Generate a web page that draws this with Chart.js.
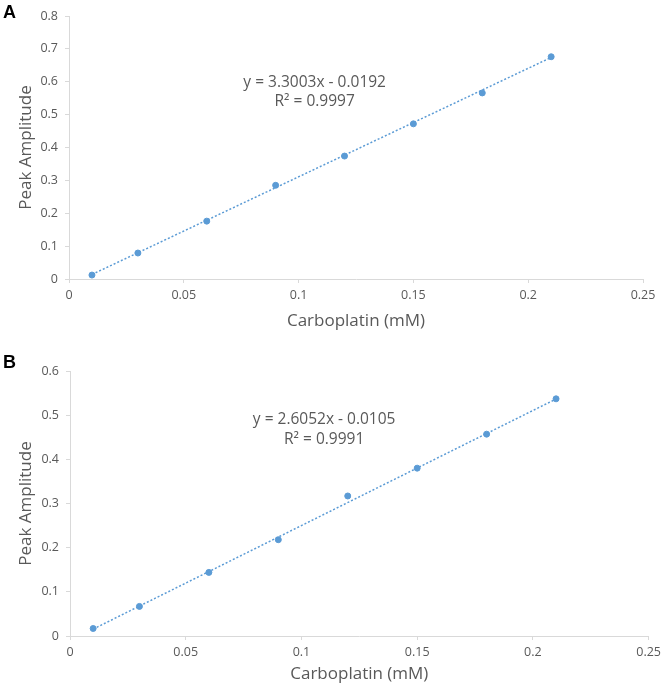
<!DOCTYPE html>
<html>
<head>
<meta charset="utf-8">
<script src="https://cdn.jsdelivr.net/npm/chart.js@4.4.1/dist/chart.umd.min.js"></script>
<style>
  body { margin: 0; background: #fff; width: 666px; height: 684px; position: relative; overflow: hidden; }
  .panel { position: absolute; left: 0; width: 666px; }
  .tag { position: absolute; left: 3px; font: bold 18px "Liberation Sans", Arial, sans-serif; color: #000; }
</style>
</head>
<body>
<div class="panel" style="top:0;height:340px"><canvas id="chartA"></canvas></div>
<div class="panel" style="top:340px;height:344px"><canvas id="chartB"></canvas></div>
<div class="tag" style="top:2px">A</div>
<div class="tag" style="top:352px">B</div>
<script>
// Carboplatin concentrations (mM)
const concentrations = [0.01, 0.03, 0.06, 0.09, 0.12, 0.15, 0.18, 0.21];
// Peak amplitudes
const amplitudeA = [0.012, 0.079, 0.176, 0.285, 0.374, 0.472, 0.566, 0.676];
const amplitudeB = [0.017, 0.067, 0.144, 0.218, 0.317, 0.380, 0.457, 0.537];
// Trendline ends (first and last concentration)
const trendX = [0.01, 0.21];
const trendA = [0.0138, 0.6739];
const trendB = [0.0156, 0.5366];
// Equation labels
const equationA = ['y = 3.3003x - 0.0192', 'R² = 0.9997'];
const equationB = ['y = 2.6052x - 0.0105', 'R² = 0.9991'];
// Axis ticks
const xTicks = [0, 0.05, 0.1, 0.15, 0.2, 0.25];
const yTicksA = [0, 0.1, 0.2, 0.3, 0.4, 0.5, 0.6, 0.7, 0.8];
const yTicksB = [0, 0.1, 0.2, 0.3, 0.4, 0.5, 0.6];

const BLUE = '#5B9BD5';
const GREY = '#595959';
const FONT = '"Open Sans", sans-serif';

const pairs = (xs, ys) => xs.map((x, i) => ({ x: x, y: ys[i] }));
// Excel style: 0.1 not 0.10
const tickText = v => String(+Number(v).toFixed(3));

// draws the trendline equation at a spot given in data units
const equationPlugin = {
    id: 'equation',
    afterDatasetsDraw(chart, args, opts) {
        const ctx = chart.ctx;
        const px = chart.scales.x.getPixelForValue(opts.x);
        const py = chart.scales.y.getPixelForValue(opts.y);
        ctx.save();
        ctx.font = '15.5px ' + FONT;
        ctx.fillStyle = GREY;
        ctx.textAlign = 'center';
        ctx.textBaseline = 'middle';
        opts.lines.forEach((t, i) => ctx.fillText(t, px, py + i * opts.gap));
        ctx.restore();
    }
};

function createCalibrationChart(canvasId, values, trend, yTicks, yMax, eq, layout) {
    const ctx = document.getElementById(canvasId).getContext('2d');
    return new Chart(ctx, {
        type: 'scatter',
        data: {
            datasets: [{
                data: pairs(trendX, trend),
                showLine: true,
                borderColor: BLUE,
                borderWidth: 1.5,
                borderDash: [2, 2],
                pointRadius: 0,
                fill: false
            }, {
                data: pairs(concentrations, values),
                backgroundColor: BLUE,
                borderColor: BLUE,
                pointRadius: 3,
                showLine: false
            }]
        },
        options: {
            responsive: true,
            maintainAspectRatio: false,
            animation: false,
            layout: { padding: { top: layout.top, right: layout.right, left: 0, bottom: 0 } },
            plugins: {
                legend: { display: false },
                tooltip: { enabled: false },
                equation: { x: eq.x, y: eq.y, gap: 19.5, lines: eq.lines }
            },
            scales: {
                x: {
                    type: 'linear',
                    min: 0,
                    max: 0.25,
                    afterBuildTicks: s => { s.ticks = xTicks.map(v => ({ value: v })); },
                    afterFit: s => { s.height = layout.xHeight; },
                    grid: { drawOnChartArea: false, color: '#D9D9D9', tickLength: 4 },
                    border: { color: '#D9D9D9' },
                    ticks: { color: GREY, font: { family: FONT, size: 12.5 }, padding: 5, maxRotation: 0, callback: tickText },
                    title: {
                        display: true,
                        text: 'Carboplatin (mM)',
                        color: GREY,
                        font: { family: FONT, size: 17 },
                        padding: { top: 0, bottom: layout.xTitlePad }
                    }
                },
                y: {
                    type: 'linear',
                    min: 0,
                    max: yMax,
                    afterBuildTicks: s => { s.ticks = yTicks.map(v => ({ value: v })); },
                    afterFit: s => { s.width = layout.yWidth; },
                    grid: { drawOnChartArea: false, color: '#D9D9D9', tickLength: 4 },
                    border: { color: '#D9D9D9' },
                    ticks: { color: GREY, font: { family: FONT, size: 12.5 }, padding: 7, callback: tickText },
                    title: {
                        display: true,
                        text: 'Peak Amplitude',
                        color: GREY,
                        font: { family: FONT, size: 17 },
                        padding: { top: 16, bottom: 0 }
                    }
                }
            }
        },
        plugins: [equationPlugin]
    });
}

createCalibrationChart('chartA', amplitudeA, trendA, yTicksA, 0.8,
    { x: 0.107, y: 0.599, lines: equationA },
    { top: 16, right: 23, yWidth: 69, xHeight: 61, xTitlePad: 9 });

createCalibrationChart('chartB', amplitudeB, trendB, yTicksB, 0.6,
    { x: 0.1098, y: 0.489, lines: equationB },
    { top: 31, right: 13, yWidth: 70, xHeight: 48, xTitlePad: 0 });
</script>
</body>
</html>
